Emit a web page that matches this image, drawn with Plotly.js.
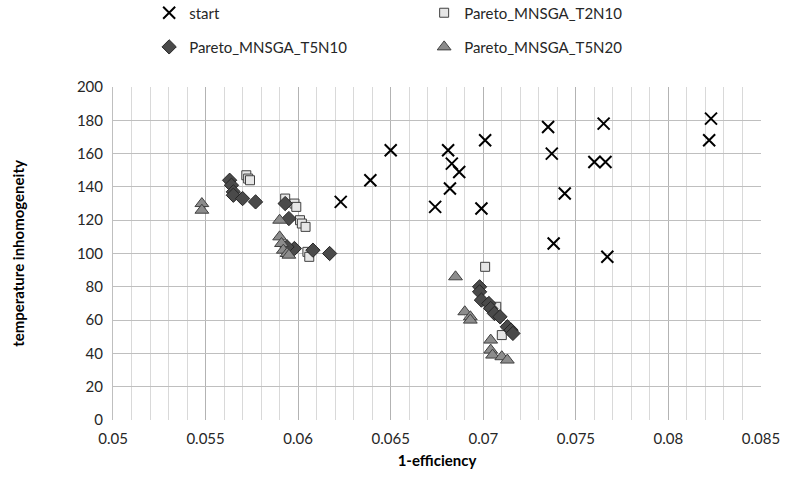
<!DOCTYPE html>
<html>
<head>
<meta charset="utf-8">
<script src="https://cdn.plot.ly/plotly-3.0.1.min.js"></script>
<style>html,body{margin:0;padding:0;background:#fff;}#chart{width:785px;height:481px;}</style>
</head>
<body>
<div id="chart"></div>
<script>
const startX = [0.0623,0.0639,0.0650,0.0674,0.0681,0.0683,0.0687,0.0682,0.0701,0.0699,0.0735,0.0737,0.0744,0.0738,0.0760,0.0766,0.0765,0.0767,0.0823,0.0822];
const startY = [131,144,162,128,162,154,149,139,168,127,176,160,136,106,155,155,178,98,181,168];

const t2n10X = [0.0572,0.0573,0.0574,0.0593,0.0598,0.0599,0.0601,0.0602,0.0604,0.0605,0.0606,0.0593,0.0701,0.0707,0.0710];
const t2n10Y = [147,145,144,133,130,128,120,118,116,101,98,103,92,68,51];

const t5n10X = [0.0563,0.0564,0.0565,0.0565,0.0570,0.0577,0.0593,0.0595,0.0598,0.0608,0.0617,0.0594,0.0698,0.0698,0.0699,0.0703,0.0704,0.0706,0.0709,0.0713,0.0715,0.0716];
const t5n10Y = [144,141,137,135,133,131,130,121,103,102,100,104,80,77,72,70,67,64,62,56,54,52];

const t5n20X = [0.0548,0.0548,0.0590,0.0590,0.0591,0.0592,0.0594,0.0595,0.0685,0.0690,0.0693,0.0693,0.0704,0.0704,0.0705,0.0710,0.0713];
const t5n20Y = [130,126,120,110,106,102,100,99,86,65,62,60,48,42,39,38,36];

const FONT = 'Lato, "Open Sans", sans-serif';

const traces = [
  {x:startX, y:startY, name:'start', type:'scatter', mode:'markers', legend:'legend',
   marker:{symbol:'x-thin', size:12, color:'#000', line:{color:'#000', width:2}}},
  {x:t2n10X, y:t2n10Y, name:'Pareto_MNSGA_T2N10', type:'scatter', mode:'markers', legend:'legend',
   marker:{symbol:'square', size:9, color:'#e6e6e6', line:{color:'#404040', width:1}}},
  {x:t5n10X, y:t5n10Y, name:'Pareto_MNSGA_T5N10', type:'scatter', mode:'markers', legend:'legend2',
   marker:{symbol:'diamond', size:11, color:'#4a4a4a', line:{color:'#262626', width:1}}},
  {x:t5n20X, y:t5n20Y, name:'Pareto_MNSGA_T5N20', type:'scatter', mode:'markers', legend:'legend2',
   marker:{symbol:'triangle-up', size:12, color:'#8c8c8c', line:{color:'#404040', width:1}}}
];

const minorGrid = {dtick:0.001, showgrid:true, gridcolor:'#d9d9d9', gridwidth:1};

const legendBase = {orientation:'h', x:0.19, xref:'container', xanchor:'left', yref:'container', yanchor:'middle',
    entrywidth:230, entrywidthmode:'pixels', font:{family:FONT, size:15, color:'#262626'},
    itemwidth:30, bgcolor:'rgba(0,0,0,0)', tracegroupgap:0};

const layout = {
  width:785, height:481,
  margin:{l:113, r:24, t:87, b:61},
  paper_bgcolor:'#fff', plot_bgcolor:'#fff',
  font:{family:FONT, size:15, color:'#262626'},
  showlegend:true,
  xaxis:{
    range:[0.05,0.085], dtick:0.005, tick0:0.05, showgrid:true, gridcolor:'#b3b3b3', gridwidth:1,
    minor:minorGrid, zeroline:false, showline:false, ticks:'', ticklen:0, ticklabelstandoff:8,
    tickfont:{family:FONT, size:15, color:'#262626'},
    title:{text:'<b>1-efficiency</b>', font:{family:FONT, size:15, color:'#000'}, standoff:9}
  },
  yaxis:{
    range:[0,200], dtick:20, showgrid:true, gridcolor:'#bfbfbf', gridwidth:1,
    zeroline:false, showline:true, linecolor:'#bfbfbf', ticks:'', ticklabelstandoff:6,
    tickfont:{family:FONT, size:15, color:'#262626'},
    title:{text:'<b>temperature inhomogeneity</b>', font:{family:FONT, size:15, color:'#000'}, standoff:48}
  },
  legend:Object.assign({}, legendBase, {y:0.973}),
  legend2:Object.assign({}, legendBase, {y:0.902})
};

Plotly.newPlot('chart', traces, layout, {displayModeBar:false, staticPlot:true});
</script>
</body>
</html>
